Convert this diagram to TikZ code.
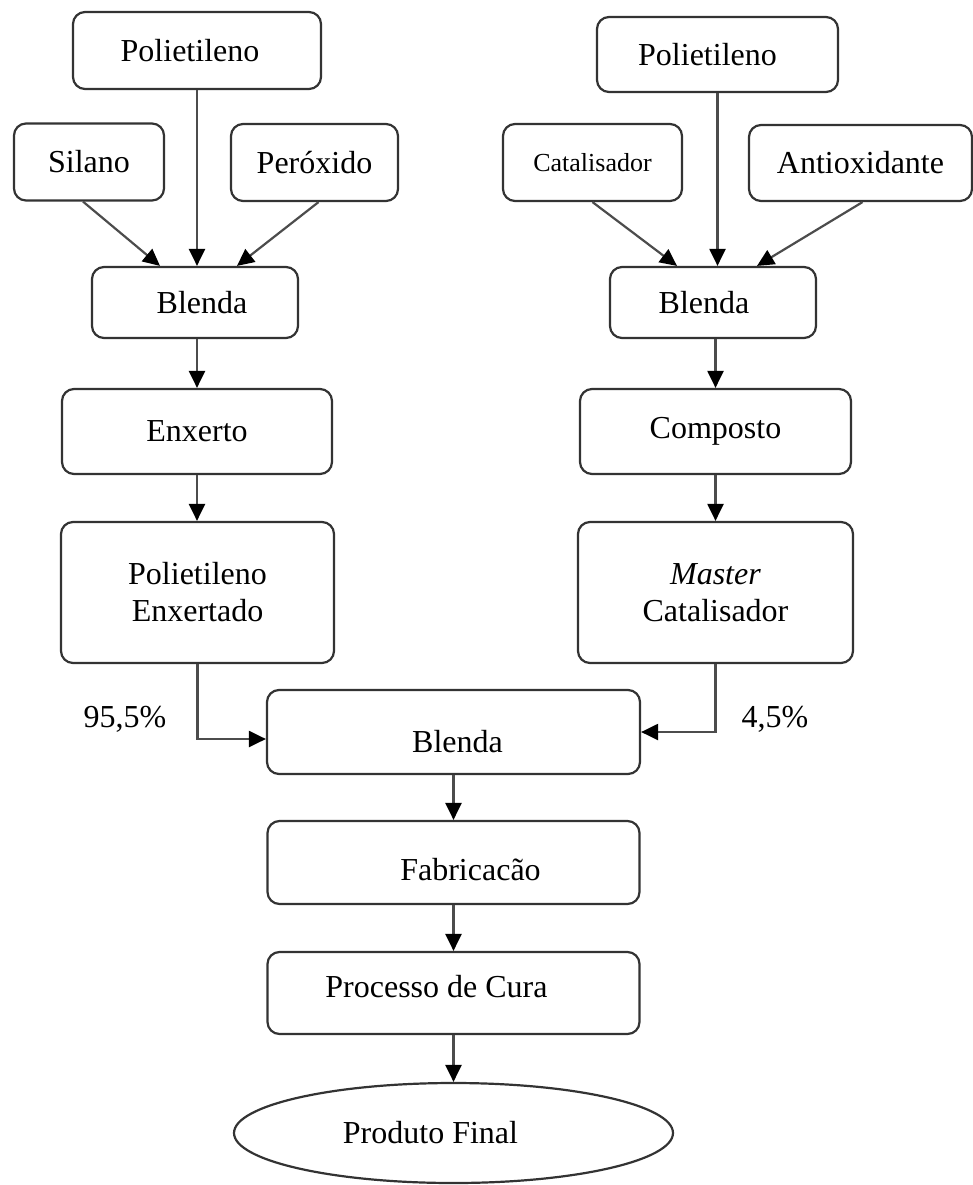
\documentclass[tikz,border=0pt]{standalone}
\usepackage{fontspec}
\setmainfont{Liberation Serif}
\usepackage{tikz}
\usetikzlibrary{arrows.meta, shapes.geometric}
\definecolor{boxgray}{rgb}{0.2, 0.2, 0.2}
\definecolor{linegray}{rgb}{0.3, 0.3, 0.3}

\begin{document}
\begin{tikzpicture}[x=1pt,y=-1pt]
				\tikzstyle{box} = [rectangle,rounded corners=12pt,fill=white,draw=boxgray,line width=2.2pt,inner sep=0pt,align=center,font=\fontsize{32}{37}\selectfont]
				\tikzstyle{endbox} = [ellipse,fill=white,draw=boxgray,line width=2.2pt,inner sep=0pt,font=\fontsize{32}{37}\selectfont]
				\tikzstyle{pct} = [inner sep=0pt,font=\fontsize{32}{37}\selectfont]
				\tikzstyle{edge} = [draw=linegray,line width=2.2pt,-{Triangle[width=16pt,length=17pt,color=black]}]
				\useasboundingbox (0,0) rectangle (973,1185);
				\node[box,minimum width=248pt,minimum height=77pt] (pe1) at (197,50.5) {\hspace*{-14pt}Polietileno};
				\node[box,minimum width=150pt,minimum height=77pt] (sil) at (89,162) {Silano};
				\node[box,minimum width=167pt,minimum height=77pt] (per) at (314.5,162.5) {Peróxido};
				\node[box,minimum width=206pt,minimum height=71pt] (bl1) at (195,302.5) {\hspace*{14pt}Blenda};
				\node[box,minimum width=270pt,minimum height=85pt] (enx) at (197,431.5) {Enxerto};
				\node[box,minimum width=273pt,minimum height=141pt] (pee) at (197.5,592.5) {Polietileno\\Enxertado};
				\node[box,minimum width=241pt,minimum height=75pt] (pe2) at (717.5,54.5) {\hspace*{-20pt}Polietileno};
				\node[box,minimum width=179pt,minimum height=77pt,font=\fontsize{26}{30}\selectfont] (cat) at (592.5,162.5) {Catalisador};
				\node[box,minimum width=223pt,minimum height=76pt] (ant) at (860.5,163) {Antioxidante};
				\node[box,minimum width=206pt,minimum height=71pt] (bl2) at (713,302.5) {\hspace*{-18pt}Blenda};
				\node[box,minimum width=271pt,minimum height=85pt] (comp) at (715.5,431.5) {Composto};
				\node[box,minimum width=275pt,minimum height=141pt] (mc) at (715.5,592.5) {\textit{Master}\\Catalisador};
				\node[box,minimum width=373pt,minimum height=84pt] (bl3) at (453.5,732) {\raisebox{-10pt}[\height][\depth]{\hspace*{8pt}Blenda}};
				\node[box,minimum width=372pt,minimum height=83pt] (fab) at (453.5,862.5) {\raisebox{-7pt}[\height][\depth]{\hspace*{34pt}Fabricacão}};
				\node[box,minimum width=372pt,minimum height=82pt] (cura) at (453.5,993) {\raisebox{6pt}[\height][\depth]{\hspace*{-34pt}Processo de Cura}};
				\node[endbox,minimum width=439pt,minimum height=100pt] (prod) at (453.5,1133) {\hspace*{-46pt}Produto Final};
				\node[pct] (p1) at (125,719) {95,5\%};
				\node[pct] (p2) at (775,719) {4,5\%};
				\draw[edge] ([xshift=-6pt]sil.south)--([xshift=-35pt]bl1.north);
				\draw[edge] ([xshift=4pt]per.south)--([xshift=42pt]bl1.north);
				\draw[edge] (pe1.south)--(pe1.south |- bl1.north);
				\draw[edge] (enx.north |- bl1.south)--(enx.north);
				\draw[edge] (enx.south)--(enx.south |- pee.north);
				\draw[edge] (cat.south)--([xshift=-36pt]bl2.north);
				\draw[edge] ([xshift=2pt]ant.south)--([xshift=44pt]bl2.north);
				\draw[edge] (pe2.south)--(pe2.south |- bl2.north);
				\draw[edge] (comp.north |- bl2.south)--(comp.north);
				\draw[edge] (comp.south)--(mc.north);
				\draw[edge] (pee.south) |- ([yshift=-7pt]bl3.west);
				\draw[edge] (mc.south) |- (bl3.east);
				\draw[edge] (bl3.south)--(fab.north);
				\draw[edge] (fab.south)--(cura.north);
				\draw[edge] (cura.south)--(prod.north);
				\end{tikzpicture}
\end{document}
